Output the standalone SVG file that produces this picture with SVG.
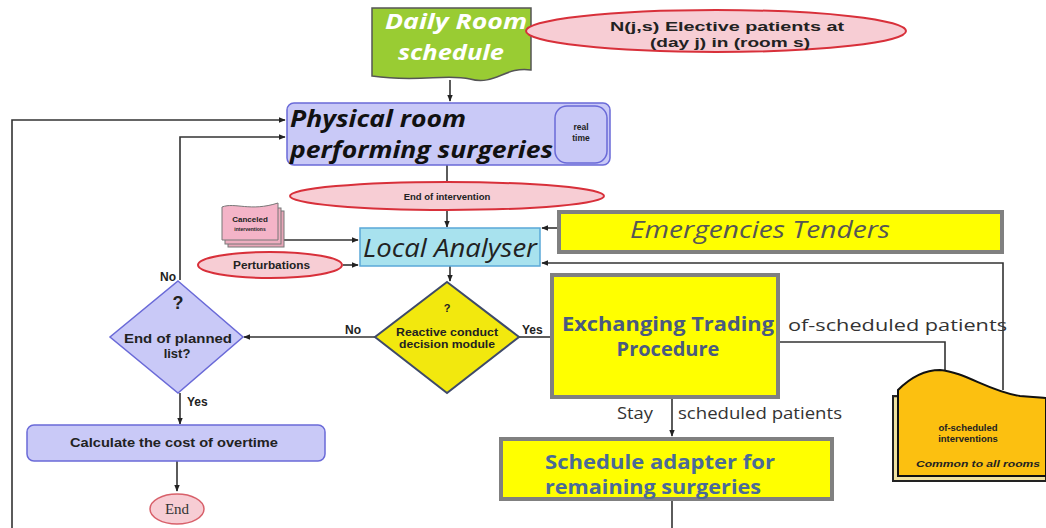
<svg xmlns="http://www.w3.org/2000/svg" width="1046" height="528" viewBox="0 0 1046 528">
<defs>
<marker id="ah" viewBox="0 0 10 10" refX="9" refY="5" markerWidth="7" markerHeight="7" orient="auto" markerUnits="userSpaceOnUse"><path d="M0,1 L10,5 L0,9 z" fill="#222"/></marker>
<style>
.ln{fill:none;stroke:#333;stroke-width:1.6}
.lav{fill:#c9c9f7;stroke:#6a6ad8;stroke-width:1.5}
.yel{fill:#ffff00;stroke:#808080;stroke-width:4}
.pk{fill:#f7cdd4;stroke:#d8303a;stroke-width:2}
.sb{font-family:"Liberation Sans",Arial,sans-serif;font-weight:bold;fill:#222}
.os{font-family:"Open Sans",sans-serif}
</style>
</defs>
<rect width="1046" height="528" fill="#fff"/>

<g id="connectors">
<path class="ln" d="M450,80 V101" marker-end="url(#ah)"/>
<path class="ln" d="M447,165 V183"/>
<path class="ln" d="M447,210 V227" marker-end="url(#ah)"/>
<path class="ln" d="M282,240 H358" marker-end="url(#ah)"/>
<path class="ln" d="M343,265 H358" marker-end="url(#ah)"/>
<path class="ln" d="M557,228 H542" marker-end="url(#ah)"/>
<path class="ln" d="M1003,390 V263 H542" marker-end="url(#ah)"/>
<path class="ln" d="M450,266 V281" marker-end="url(#ah)"/>
<path class="ln" d="M375,337 H244" marker-end="url(#ah)"/>
<path class="ln" d="M519,337 H550"/>
<path class="ln" d="M180,280 V137 H285" marker-end="url(#ah)"/>
<path class="ln" d="M12,528 V120 H285" marker-end="url(#ah)"/>
<path class="ln" d="M180,393 V424" marker-end="url(#ah)"/>
<path class="ln" d="M177,460 V491" marker-end="url(#ah)"/>
<path class="ln" d="M780,342 H945 V370"/>
<path class="ln" d="M672,398 V436" marker-end="url(#ah)"/>
<path class="ln" d="M672,500 V528"/>
<text class="sb" x="160" y="281" font-size="12">No</text>
<text class="sb" x="345" y="334" font-size="12">No</text>
<text class="sb" x="522" y="334" font-size="12">Yes</text>
<text class="sb" x="187" y="406" font-size="12">Yes</text>
<text class="os" x="788" y="331" font-size="17" fill="#333" textLength="219" lengthAdjust="spacingAndGlyphs">of-scheduled patients</text>
<text class="os" x="617" y="419" font-size="17" fill="#333" textLength="36" lengthAdjust="spacingAndGlyphs">Stay</text>
<text class="os" x="678" y="419" font-size="17" fill="#333" textLength="164" lengthAdjust="spacingAndGlyphs">scheduled patients</text>
</g>

<g id="daily">
<path d="M372,8 H531 V70 C505,66 495,86 470,79 C445,73 420,83 372,76 Z" fill="#99cc33" stroke="#555" stroke-width="1.5"/>
<text class="os" x="385" y="29" font-size="21" font-weight="bold" font-style="italic" fill="#fff" textLength="142" lengthAdjust="spacingAndGlyphs">Daily Room</text>
<text class="os" x="398" y="60" font-size="21" font-weight="bold" font-style="italic" fill="#fff" textLength="106" lengthAdjust="spacingAndGlyphs">schedule</text>
</g>

<g id="elective">
<ellipse cx="716" cy="31" rx="190" ry="21" class="pk"/>
<text class="sb" x="610" y="31" font-size="12.5" textLength="234" lengthAdjust="spacingAndGlyphs">N(j,s) Elective patients at</text>
<text class="sb" x="650" y="47" font-size="12.5" textLength="160" lengthAdjust="spacingAndGlyphs">(day j) in (room s)</text>
</g>

<g id="physical">
<rect x="287" y="103" width="323" height="62" rx="7" class="lav"/>
<rect x="555" y="106" width="52" height="57" rx="12" class="lav"/>
<text class="sb" x="581" y="130" font-size="8.5" text-anchor="middle">real</text>
<text class="sb" x="581" y="141" font-size="8.5" text-anchor="middle">time</text>
<text class="os" x="290" y="127" font-size="24" font-weight="bold" font-style="italic" fill="#111" textLength="176" lengthAdjust="spacingAndGlyphs">Physical room</text>
<text class="os" x="290" y="158" font-size="24" font-weight="bold" font-style="italic" fill="#111" textLength="263" lengthAdjust="spacingAndGlyphs">performing surgeries</text>
</g>

<g id="endint">
<ellipse cx="447" cy="196" rx="157" ry="14" class="pk"/>
<text class="sb" x="447" y="200" font-size="9.5" text-anchor="middle">End of intervention</text>
</g>

<g id="canceled">
<rect x="228" y="211" width="56" height="36" fill="#e8a6b8" stroke="#777" stroke-width="1"/>
<rect x="225" y="208" width="56" height="36" fill="#eeaec0" stroke="#777" stroke-width="1"/>
<path d="M222,207 C235,202 250,212 278,203 V240 H222 Z" fill="#f4b4c8" stroke="#777" stroke-width="1"/>
<text class="sb" x="250" y="222" font-size="8" text-anchor="middle">Canceled</text>
<text class="sb" x="250" y="231" font-size="5" fill="#b06080" text-anchor="middle">interventions</text>
</g>

<g id="perturb">
<ellipse cx="270" cy="265" rx="72" ry="13" class="pk"/>
<text class="sb" x="233" y="269" font-size="10.5" textLength="77" lengthAdjust="spacingAndGlyphs">Perturbations</text>
</g>

<g id="local">
<rect x="360" y="228" width="180" height="38" fill="#a8e2ee" stroke="#5aa8d8" stroke-width="1.5"/>
<text class="os" x="363" y="257" font-size="25" font-style="italic" fill="#222" textLength="174" lengthAdjust="spacingAndGlyphs">Local Analyser</text>
</g>

<g id="emergencies">
<rect x="559" y="212" width="443" height="40" class="yel"/>
<text class="os" x="630" y="238" font-size="24" font-style="italic" fill="#555" textLength="260" lengthAdjust="spacingAndGlyphs">Emergencies Tenders</text>
</g>

<g id="reactive">
<path d="M447,282 L519,337 L447,393 L375,337 Z" fill="#f2e80e" stroke="#3e4a6a" stroke-width="2"/>
<text class="sb" x="447" y="312" font-size="11" fill="#4a4a2a" text-anchor="middle">?</text>
<text class="sb" x="396" y="336" font-size="10.5" fill="#55552a" textLength="102" lengthAdjust="spacingAndGlyphs">Reactive conduct</text>
<text class="sb" x="399" y="348" font-size="10.5" fill="#55552a" textLength="96" lengthAdjust="spacingAndGlyphs">decision module</text>
</g>

<g id="endplanned">
<path d="M178,281 L243,337 L178,393 L110,337 Z" class="lav"/>
<text class="sb" x="178" y="309" font-size="18" fill="#222" text-anchor="middle">?</text>
<text class="sb" x="124" y="343" font-size="13" fill="#333" textLength="108" lengthAdjust="spacingAndGlyphs">End of planned</text>
<text class="sb" x="177" y="358" font-size="13" fill="#333" text-anchor="middle">list?</text>
</g>

<g id="calc">
<rect x="27" y="425" width="298" height="36" rx="7" class="lav"/>
<text class="sb" x="70" y="447" font-size="12.5" fill="#333" textLength="208" lengthAdjust="spacingAndGlyphs">Calculate the cost of overtime</text>
</g>

<g id="end">
<ellipse cx="177" cy="509" rx="27" ry="15" fill="#f7cdd4" stroke="#d8606a" stroke-width="1.5"/>
<text x="177" y="514" font-family="'Liberation Serif',serif" font-size="15" fill="#333" text-anchor="middle">End</text>
</g>

<g id="exchanging">
<rect x="552" y="275" width="226" height="122" class="yel"/>
<text class="os" x="562" y="331" font-size="20" font-weight="bold" fill="#4a5a80" textLength="212" lengthAdjust="spacingAndGlyphs">Exchanging Trading</text>
<text class="os" x="668" y="356" font-size="20" font-weight="bold" fill="#4a5a80" text-anchor="middle">Procedure</text>
</g>

<g id="adapter">
<rect x="501" y="439" width="331" height="60" class="yel"/>
<text class="os" x="545" y="469" font-size="20" font-weight="bold" fill="#4a6a98" textLength="230" lengthAdjust="spacingAndGlyphs">Schedule adapter for</text>
<text class="os" x="545" y="494" font-size="20" font-weight="bold" fill="#4a6a98" textLength="216" lengthAdjust="spacingAndGlyphs">remaining surgeries</text>
</g>

<g id="ofscheduled">
<path d="M893,396 V481 H1046 V398 Z" fill="#f0e2a0" stroke="#222" stroke-width="2"/>
<path d="M898,390 C910,378 925,370 940,370 C965,372 990,392 1020,396 L1046,398 V476 H898 Z" fill="#fcc010" stroke="#111" stroke-width="2"/>
<text class="sb" x="968" y="431" font-size="9.5" fill="#333" text-anchor="middle">of-scheduled</text>
<text class="sb" x="968" y="442" font-size="9.5" fill="#333" text-anchor="middle">interventions</text>
<text class="sb" x="916" y="467" font-size="9.5" font-style="italic" fill="#333" textLength="124" lengthAdjust="spacingAndGlyphs">Common to all rooms</text>
</g>
</svg>
